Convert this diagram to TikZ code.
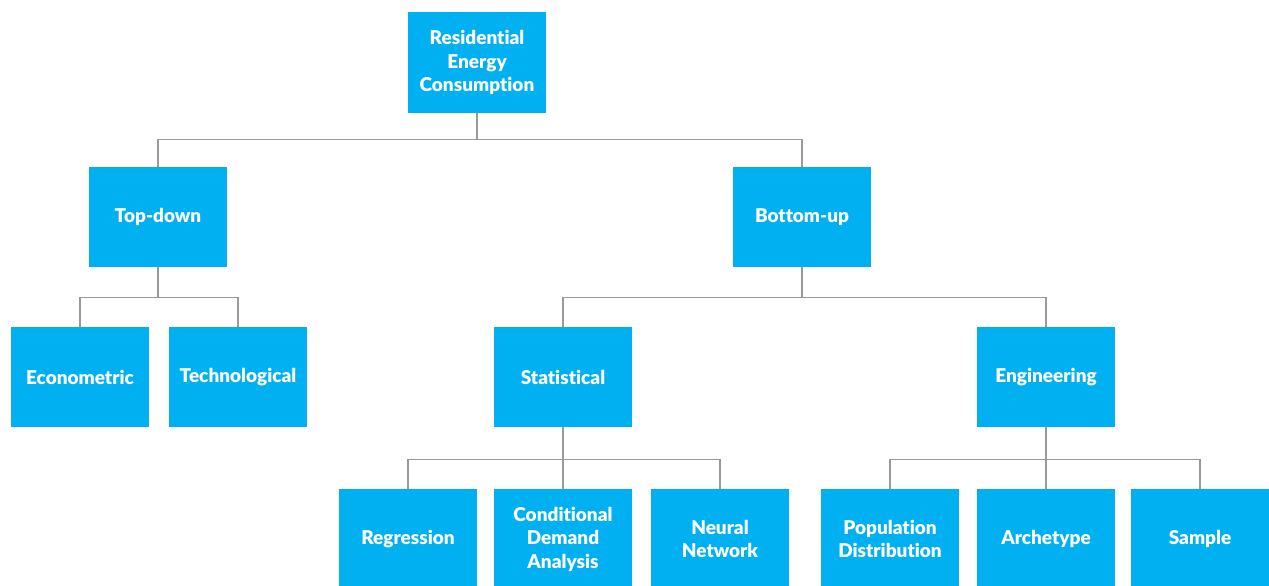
\documentclass[tikz,border=0pt]{standalone}
\usepackage{fontspec}
\setmainfont{Lato}[BoldFont={Lato Black},RawFeature=-liga]
\definecolor{boxblue}{HTML}{00B0F0}
\definecolor{linegray}{HTML}{9A9A9A}
\begin{document}
\begin{tikzpicture}[x=1pt,y=-1pt,
  box/.style={fill=boxblue,draw=none,minimum width=138pt,minimum height=100pt,
    text width=136pt,align=center,text=white,font=\fontsize{19}{23.5}\selectfont\bfseries,inner sep=0pt},
  conn/.style={draw=linegray,line width=1.1pt}]
\useasboundingbox (0,0) rectangle (1269,586);
\clip (0,0) rectangle (1269,586);
\node[box] (root) at (477,62.5) {Residential\\Energy\\Consumption};
\node[box] (td) at (158,217) {Top-down};
\node[box] (bu) at (802,217) {Bottom-up};
\node[box] (eco) at (80,377) {Econometric};
\node[box] (tech) at (238,377) {Technological};
\node[box] (stat) at (563,377) {Statistical};
\node[box] (eng) at (1046,377) {Engineering};
\node[box] (reg) at (408,539) {Regression};
\node[box] (cda) at (563,539) {Conditional\\Demand\\Analysis};
\node[box] (nn) at (720,539) {Neural\\Network};
\node[box] (pop) at (890,539) {Population\\Distribution};
\node[box] (arch) at (1046,539) {Archetype};
\node[box] (samp) at (1200,539) {Sample};
\draw[conn] (root.south) -- ++(0,27) -| (td.north);
\draw[conn] (root.south) -- ++(0,27) -| (bu.north);
\draw[conn] (td.south) -- ++(0,30) -| (eco.north);
\draw[conn] (td.south) -- ++(0,30) -| (tech.north);
\draw[conn] (bu.south) -- ++(0,30) -| (stat.north);
\draw[conn] (bu.south) -- ++(0,30) -| (eng.north);
\draw[conn] (stat.south) -- ++(0,32) -| (reg.north);
\draw[conn] (stat.south) -- (cda.north);
\draw[conn] (stat.south) -- ++(0,32) -| (nn.north);
\draw[conn] (eng.south) -- ++(0,32) -| (pop.north);
\draw[conn] (eng.south) -- (arch.north);
\draw[conn] (eng.south) -- ++(0,32) -| (samp.north);
\end{tikzpicture}
\end{document}
